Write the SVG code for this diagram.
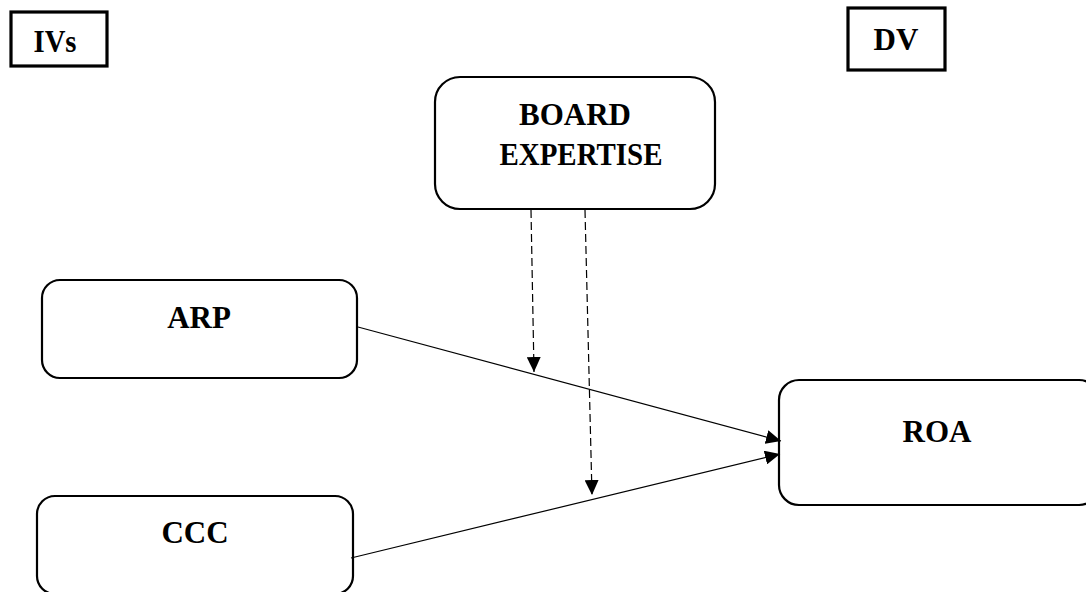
<svg xmlns="http://www.w3.org/2000/svg" width="1086" height="592" viewBox="0 0 1086 592">
<style>
.t{font-family:"Liberation Serif","Times New Roman",serif;font-weight:bold;font-size:31px;fill:#000;text-anchor:middle}
.box{fill:#fff;stroke:#000;stroke-width:2.2}
.sq{fill:#fff;stroke:#000;stroke-width:3.2}
.ln{stroke:#000;stroke-width:1.2;fill:none}
.dl{stroke:#000;stroke-width:1.2;fill:none;stroke-dasharray:8,4}
</style>
<defs>
<marker id="ah" viewBox="0 0 15 14" refX="15" refY="7" markerWidth="15" markerHeight="14" markerUnits="userSpaceOnUse" orient="auto">
<path d="M0,0 L15,7 L0,14 Z" fill="#000"/>
</marker>
</defs>
<rect width="1086" height="592" fill="#fff"/>
<g id="ivs"><rect class="sq" x="11" y="12" width="96" height="54"/><text class="t" x="55" y="52" textLength="43" lengthAdjust="spacingAndGlyphs">IVs</text></g>
<g id="dv"><rect class="sq" x="848" y="8" width="97" height="62"/><text class="t" x="896" y="50">DV</text></g>
<g id="board"><rect class="box" x="435" y="77" width="280" height="132" rx="25"/><text class="t" x="575" y="125">BOARD</text><text class="t" x="581" y="165" textLength="163" lengthAdjust="spacingAndGlyphs">EXPERTISE</text></g>
<g id="arp"><rect class="box" x="42" y="280" width="315" height="98" rx="18"/><text class="t" x="199" y="328">ARP</text></g>
<g id="ccc"><rect class="box" x="37" y="496" width="316" height="98" rx="18"/><text class="t" x="195" y="543">CCC</text></g>
<g id="roa"><rect class="box" x="779" y="380" width="320" height="125" rx="20"/><text class="t" x="937" y="442">ROA</text></g>
<g id="connectors">
<line class="ln" x1="358" y1="327" x2="781" y2="441" marker-end="url(#ah)"/>
<line class="ln" x1="351" y1="558" x2="780" y2="454" marker-end="url(#ah)"/>
<line class="dl" x1="531" y1="210" x2="534" y2="372" marker-end="url(#ah)"/>
<line class="dl" x1="585" y1="210" x2="592" y2="495" marker-end="url(#ah)"/>
</g>
</svg>
